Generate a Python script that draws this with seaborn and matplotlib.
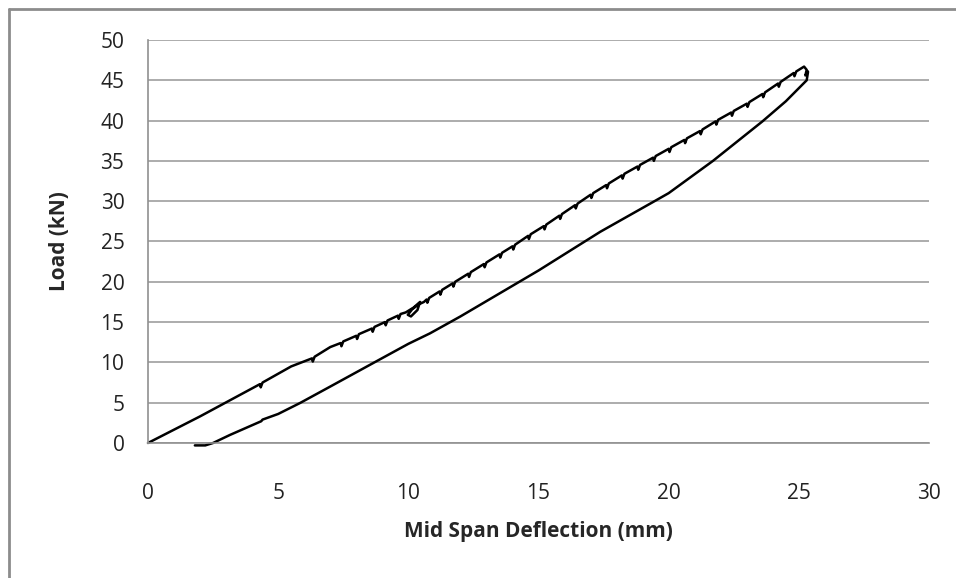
import numpy as np
import pandas as pd
import seaborn as sn
import matplotlib.pyplot as plt
from matplotlib.lines import Line2D

# 하중-처짐 곡선 (재하 구간, 작은 톱니 포함)
load_x = [0.0, 2.0, 4.3, 4.33, 4.4, 5.5, 6.3, 6.33, 6.4, 7.0,
          7.4, 7.43, 7.5, 8.0, 8.03, 8.1, 8.6, 8.63, 8.7, 9.1, 9.13, 9.2, 9.6, 9.63, 9.7,
          9.9, 10.2, 10.45, 10.35, 10.1, 9.98, 10.15, 10.4, 10.6,
          10.7, 10.73, 10.8, 11.2, 11.23, 11.3, 11.7, 11.73, 11.8, 12.3, 12.33, 12.4,
          12.9, 12.93, 13.0, 13.5, 13.53, 13.6, 14.0, 14.03, 14.1, 14.6, 14.63, 14.7,
          15.2, 15.23, 15.3, 15.8, 15.83, 15.9, 16.4, 16.43, 16.5, 17.0, 17.03, 17.1,
          17.6, 17.63, 17.7, 18.2, 18.23, 18.3, 18.8, 18.83, 18.9, 19.4, 19.43, 19.5,
          20.0, 20.03, 20.1, 20.6, 20.63, 20.7, 21.2, 21.23, 21.3, 21.8, 21.83, 21.9,
          22.4, 22.43, 22.5, 23.0, 23.03, 23.1, 23.6, 23.63, 23.7, 24.2, 24.23, 24.3,
          24.8, 24.83, 24.9, 25.2, 25.3, 25.25, 25.35]
load_y = [0.0, 3.3, 7.3, 6.9, 7.5, 9.5, 10.5, 10.1, 10.7, 11.9,
          12.4, 12.0, 12.6, 13.3, 12.9, 13.5, 14.2, 13.8, 14.4, 15.0, 14.6, 15.2, 15.8, 15.4, 16.0,
          16.2, 16.8, 17.5, 16.5, 15.7, 15.9, 16.6, 17.2, 17.5,
          17.8, 17.4, 18.0, 18.8, 18.4, 19.0, 19.8, 19.4, 20.0, 21.0, 20.6, 21.2,
          22.2, 21.8, 22.4, 23.4, 23.0, 23.6, 24.4, 24.0, 24.6, 25.7, 25.3, 25.9,
          26.9, 26.5, 27.1, 28.2, 27.8, 28.4, 29.5, 29.1, 29.7, 30.8, 30.4, 31.0,
          32.0, 31.6, 32.2, 33.2, 32.8, 33.4, 34.3, 33.9, 34.5, 35.4, 35.0, 35.6,
          36.5, 36.1, 36.7, 37.6, 37.2, 37.8, 38.7, 38.3, 38.9, 39.9, 39.5, 40.1,
          41.0, 40.6, 41.2, 42.1, 41.7, 42.3, 43.3, 42.9, 43.5, 44.6, 44.2, 44.8,
          45.9, 45.5, 46.1, 46.7, 46.3, 45.6, 46.1]

# 제하 구간
unload_x = [25.35, 25.3, 24.5, 23.6, 21.7, 20.0, 19.4, 17.37, 15.0, 12.0, 10.83, 10.0,
            8.64, 7.0, 5.84, 5.0, 4.4, 4.35, 3.15, 2.5, 2.2, 1.8]
unload_y = [46.0, 45.0, 42.4, 39.9, 35.0, 31.0, 29.9, 26.2, 21.4, 15.7, 13.6, 12.3,
            9.9, 7.0, 4.96, 3.6, 2.9, 2.7, 1.0, 0.0, -0.3, -0.3]

df = pd.concat([
    pd.DataFrame({'x': load_x, 'y': load_y, 'seg': 'load'}),
    pd.DataFrame({'x': unload_x, 'y': unload_y, 'seg': 'unload'}),
], ignore_index=True)

sn.set_style('white')
plt.rcParams['font.family'] = ['Open Sans', 'DejaVu Sans']

fig = plt.figure(figsize=(9.56, 5.78), dpi=100)
ax = fig.add_axes([0.1548, 0.2336, 0.8170, 0.6972])

sn.lineplot(data=df, x='x', y='y', units='seg', estimator=None, sort=False,
            color='black', linewidth=1.8, ax=ax)
for ln in ax.lines:
    ln.set_clip_on(False)

ax.set_xlim(0, 30)
ax.set_ylim(0, 50)
ax.set_xticks(range(0, 31, 5))
ax.set_yticks(range(0, 51, 5))
ax.grid(axis='y', color='#a6a6a6', linewidth=1.3)
ax.set_axisbelow(True)
for s in ['top', 'right']:
    ax.spines[s].set_visible(False)
for s in ['left', 'bottom']:
    ax.spines[s].set_color('#909090')
    ax.spines[s].set_linewidth(1.2)
ax.tick_params(axis='both', which='major', length=5, width=1.2, color='#909090',
               direction='out', labelsize=15, labelcolor='#222222', pad=12)
ax.tick_params(axis='x', pad=24)
ax.set_xlabel('Mid Span Deflection (mm)', fontsize=15, fontweight='bold', labelpad=12)
ax.set_ylabel('Load (kN)', fontsize=15, fontweight='bold', labelpad=22)

# 바깥 테두리 (위, 왼쪽)
fig.add_artist(Line2D([0.009, 1.0], [0.985, 0.985], color='#8c8c8c', linewidth=2))
fig.add_artist(Line2D([0.009, 0.009], [0.0, 0.985], color='#8c8c8c', linewidth=2))

plt.savefig('out.png', dpi=100)
